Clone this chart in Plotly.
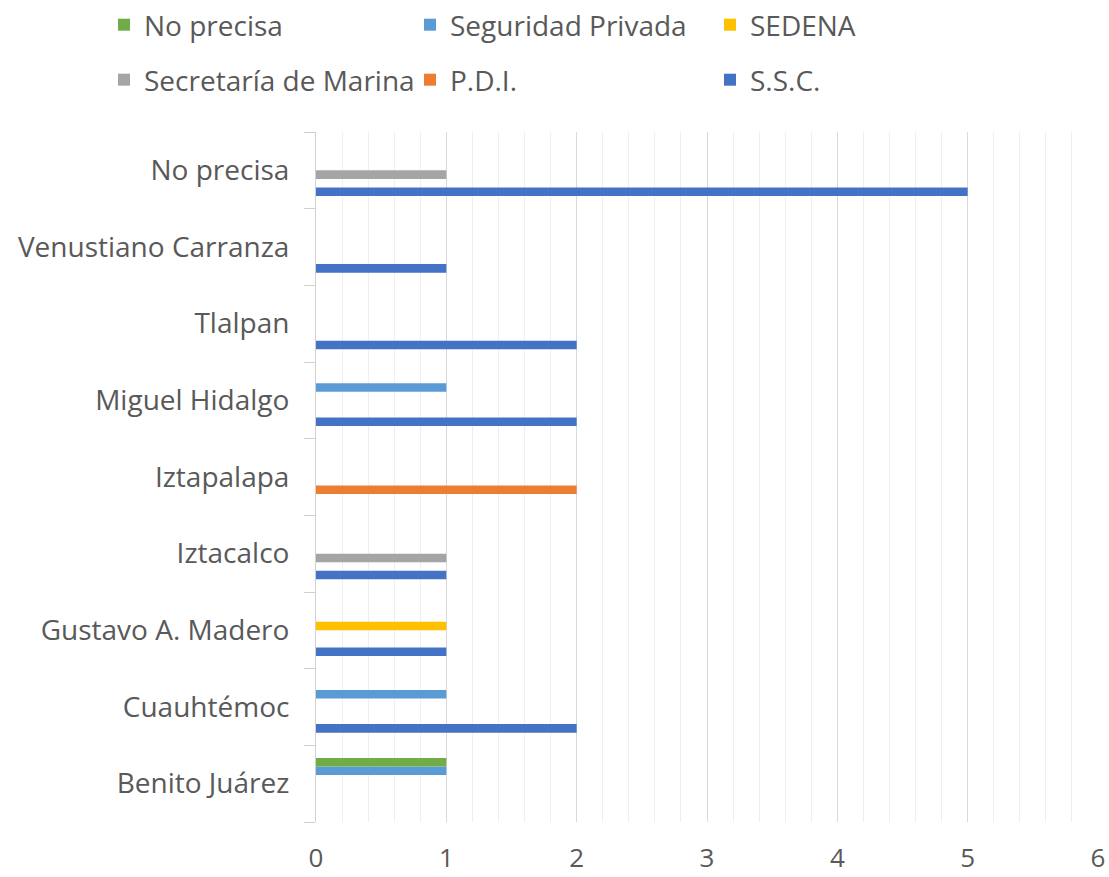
import plotly.graph_objects as go

categories = ["Benito Juárez", "Cuauhtémoc", "Gustavo A. Madero", "Iztacalco",
              "Iztapalapa", "Miguel Hidalgo", "Tlalpan", "Venustiano Carranza", "No precisa"]

ssc = [None, 2, 1, 1, None, 2, 2, 1, 5]
pdi = [None, None, None, None, 2, None, None, None, None]
marina = [None, None, None, 1, None, None, None, None, 1]
sedena = [None, None, 1, None, None, None, None, None, None]
seg_privada = [1, 1, None, None, None, 1, None, None, None]
no_precisa = [1, None, None, None, None, None, None, None, None]

series_names = ["S.S.C.", "P.D.I.", "Secretaría de Marina", "SEDENA", "Seguridad Privada", "No precisa"]
series_values = [ssc, pdi, marina, sedena, seg_privada, no_precisa]
series_colors = ["#4472C4", "#ED7D31", "#A5A5A5", "#FFC000", "#5B9BD5", "#70AD47"]

W, H = 1109, 877

# legend slot per series: (text-left x, centre y) in pixels
legend_slots = {
    "No precisa": (145, 25),
    "Seguridad Privada": (451, 25),
    "SEDENA": (751, 25),
    "Secretaría de Marina": (145, 80),
    "P.D.I.": (451, 80),
    "S.S.C.": (751, 80),
}

FONT = "Open Sans"
TXT = "#595959"

fig = go.Figure()
legends = {}
for i, (name, vals, color) in enumerate(zip(series_names, series_values, series_colors)):
    key = "legend" if i == 0 else f"legend{i + 1}"
    fig.add_trace(go.Bar(
        y=categories, x=vals, name=name, orientation="h",
        marker=dict(color=color, line=dict(width=0)),
        legend=key, showlegend=True,
    ))
    tx, ty = legend_slots[name]
    legends[key] = dict(
        orientation="h",
        font=dict(family=FONT, size=28, color=TXT),
        xref="container", yref="container",
        x=(tx - 41) / W, y=1 - ty / H,
        xanchor="left", yanchor="middle",
        bgcolor="rgba(0,0,0,0)", itemwidth=30,
    )

fig.update_layout(
    width=W, height=H, showlegend=True,
    margin=dict(l=316, r=11, t=132, b=55, autoexpand=False),
    paper_bgcolor="white", plot_bgcolor="white",
    barmode="group", bargap=0.33, bargroupgap=0,
    font=dict(family=FONT, size=24, color=TXT),
    xaxis=dict(
        range=[0, 6], dtick=1, tick0=0,
        showgrid=True, gridcolor="#D9D9D9", gridwidth=1,
        minor=dict(dtick=0.2, showgrid=True, gridcolor="#EFEFEF", gridwidth=1),
        zeroline=False, showline=False,
        ticks="outside", ticklen=13, tickcolor="rgba(0,0,0,0)",
        tickfont=dict(family=FONT, size=26, color=TXT),
        automargin=False, fixedrange=True,
    ),
    yaxis=dict(
        type="category", categoryorder="array", categoryarray=categories,
        tickson="boundaries", ticks="outside", ticklen=11, tickcolor="#D0D0D0",
        showline=True, linecolor="#D0D0D0", linewidth=1,
        showgrid=False, zeroline=False,
        ticklabelstandoff=20,
        tickfont=dict(family=FONT, size=28, color=TXT),
        automargin=False, fixedrange=True,
    ),
    **legends,
)

fig.write_html(
    "out.html",
    config={"displayModeBar": False},
    post_script="document.body.style.margin='0';document.body.style.overflow='hidden';",
)
